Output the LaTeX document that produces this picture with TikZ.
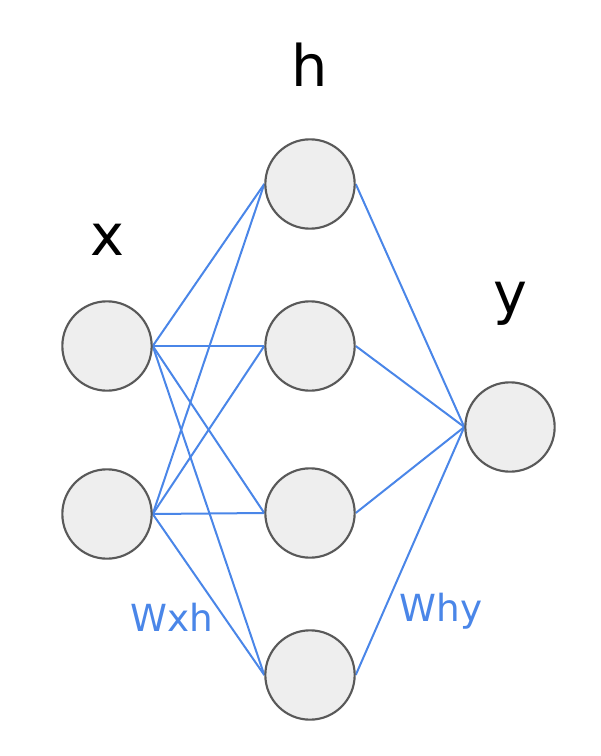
\documentclass[tikz,border=0pt]{standalone}
\usepackage{fontspec}
\setmainfont{DejaVu Sans}
\usetikzlibrary{backgrounds}
\definecolor{wblue}{HTML}{4A86E8}
\definecolor{nfill}{HTML}{EEEEEE}
\definecolor{nline}{HTML}{595959}
\begin{document}
\begin{tikzpicture}[x=0.75pt,y=-0.75pt,
  neuron/.style={circle,draw=nline,fill=nfill,line width=1.6pt,minimum size=67pt,inner sep=0pt},
  wire/.style={draw=wblue,line width=1.5pt},
  layerlabel/.style={font=\fontsize{43}{50}\selectfont,text=black},
  wlabel/.style={font=\fontsize{28}{33}\selectfont,text=wblue}]
\useasboundingbox (0,0) rectangle (600,756);
\node[neuron] (x1) at (107,346) {};
\node[neuron] (x2) at (107,514) {};
\node[neuron] (h1) at (310,184) {};
\node[neuron] (h2) at (310,346) {};
\node[neuron] (h3) at (310,513) {};
\node[neuron] (h4) at (310,675) {};
\node[neuron] (y1) at (510,427) {};
\begin{pgfonlayer}{background}
\foreach \a in {x1,x2}{
  \foreach \b in {h1,h2,h3,h4}{
    \draw[wire] (\a.east) -- (\b.west);
  }
}
\foreach \b in {h1,h2,h3,h4}{
  \draw[wire] (\b.east) -- (y1.west);
}
\end{pgfonlayer}
\node[layerlabel] (lx) at (107,240) {x};
\node[layerlabel] (lh) at (310,65) {h};
\node[layerlabel] (ly) at (510,304) {y};
\node[wlabel] (wxh) at (172,617) {Wxh};
\node[wlabel] (why) at (441,611) {Why};
\end{tikzpicture}
\end{document}
